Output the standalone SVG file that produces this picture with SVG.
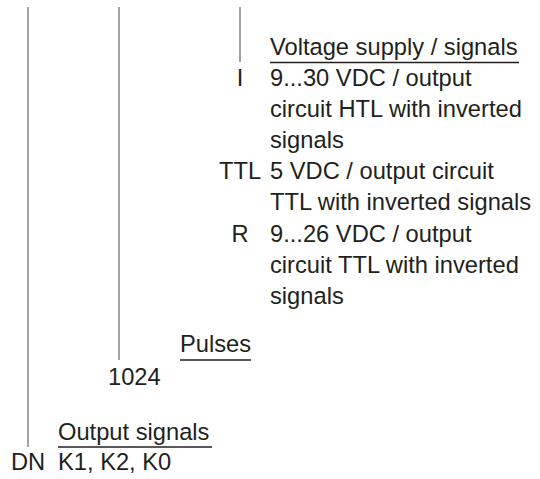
<svg xmlns="http://www.w3.org/2000/svg" width="540" height="479" viewBox="0 0 540 479">
<style>
text{font-family:"Liberation Sans",Arial,sans-serif;font-size:23.7px;fill:#231f20}
.c{text-anchor:middle}
.lead{stroke:#8c8c8c;stroke-width:1.6;fill:none}
.ul{stroke:#231f20;stroke-width:1.3;fill:none}
</style>
<rect width="540" height="479" fill="#fff"/>
<g id="connectors">
<line class="lead" x1="28" y1="7" x2="28" y2="447"/>
<line class="lead" x1="119" y1="7" x2="119" y2="360"/>
<line class="lead" x1="240" y1="7" x2="240" y2="62"/>
</g>
<g id="voltage">
<text x="270" y="55">Voltage supply / signals</text>
<line class="ul" x1="270" y1="62.5" x2="519" y2="62.5"/>
<text class="c" x="240" y="86">I</text>
<text x="270" y="86">9...30 VDC / output</text>
<text x="270" y="117">circuit HTL with inverted</text>
<text x="270" y="148">signals</text>
<text class="c" x="240" y="179">TTL</text>
<text x="270" y="179">5 VDC / output circuit</text>
<text x="270" y="210">TTL with inverted signals</text>
<text class="c" x="240" y="242">R</text>
<text x="270" y="242">9...26 VDC / output</text>
<text x="270" y="273">circuit TTL with inverted</text>
<text x="270" y="304">signals</text>
</g>
<g id="pulses">
<text x="180" y="352">Pulses</text>
<line class="ul" x1="180" y1="360" x2="251" y2="360"/>
<text x="108" y="385">1024</text>
</g>
<g id="output">
<text x="58" y="440">Output signals</text>
<line class="ul" x1="58" y1="447" x2="212" y2="447"/>
<text class="c" x="28" y="470">DN</text>
<text x="58" y="470">K1, K2, K0</text>
</g>
</svg>
